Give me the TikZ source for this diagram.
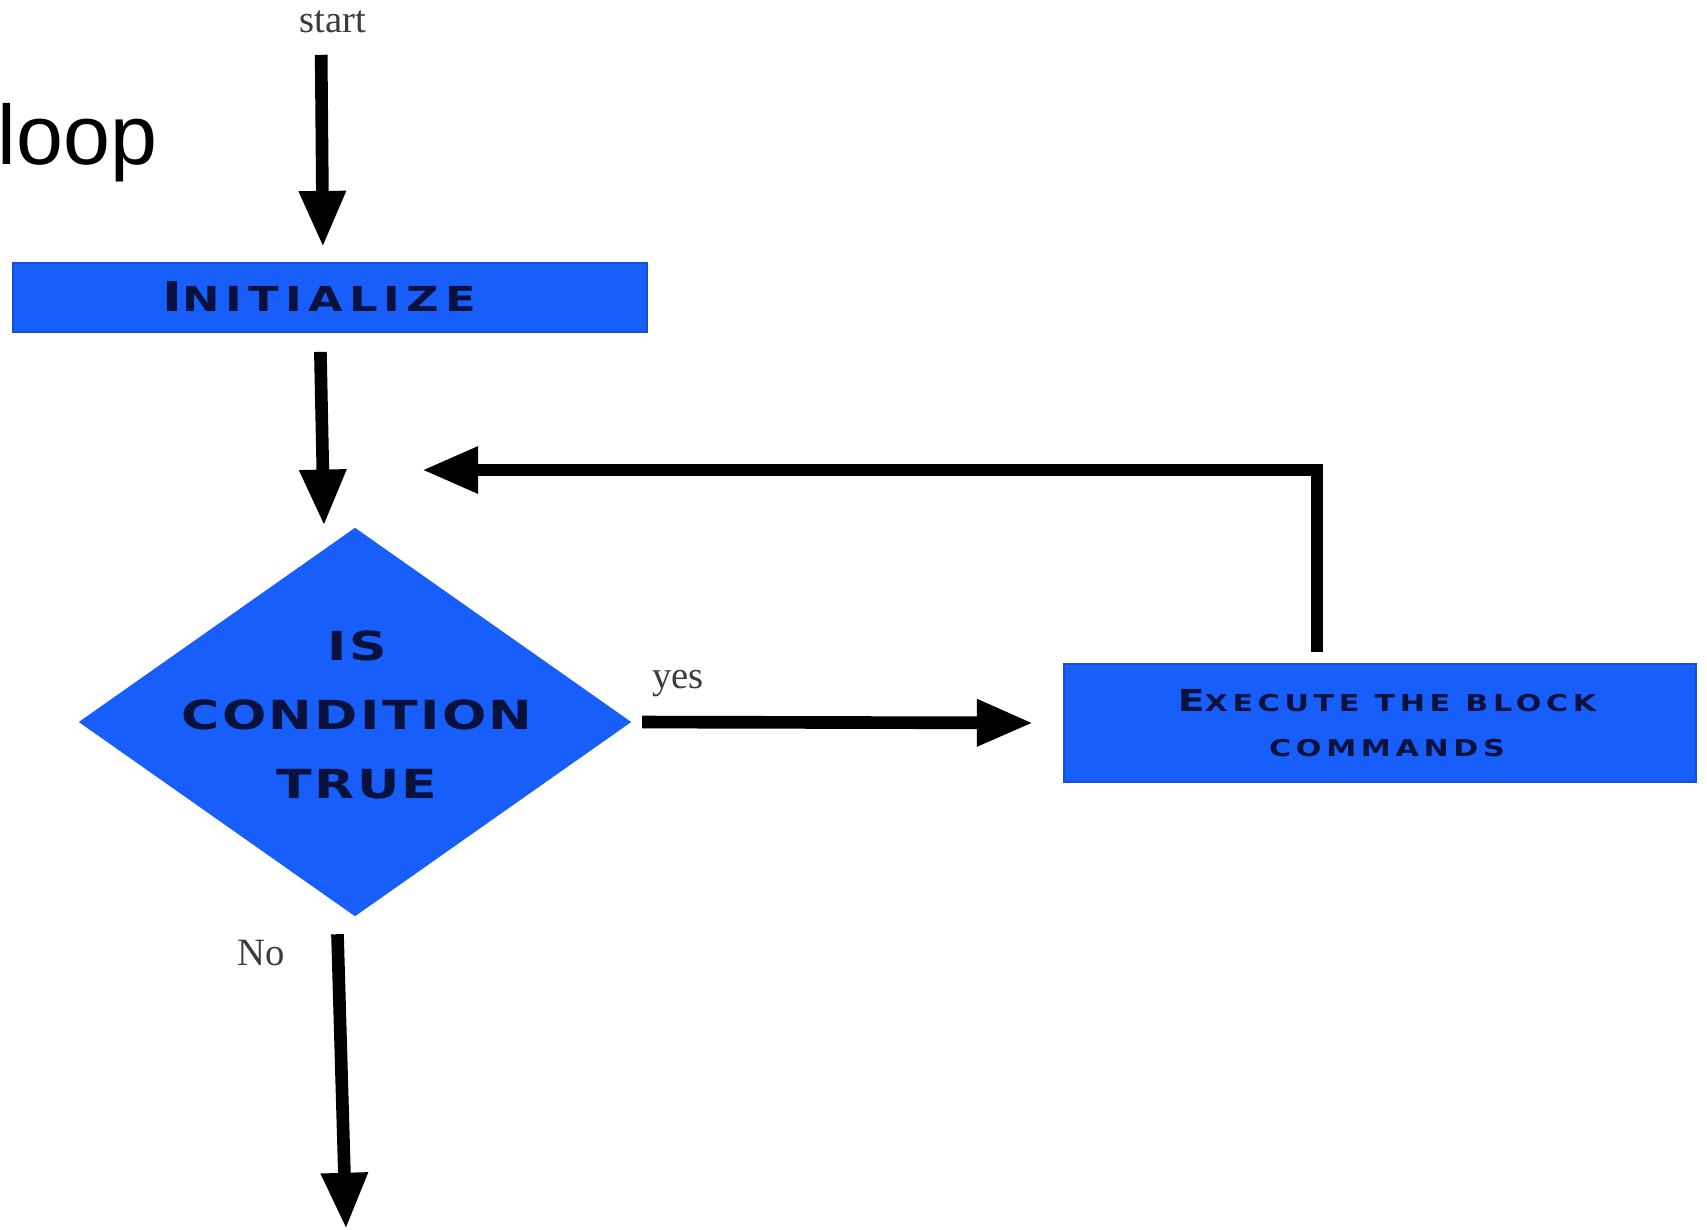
\documentclass[tikz,border=0pt]{standalone}
\usepackage{fontspec}
\setmainfont{Liberation Serif}
\setsansfont{Liberation Sans}
\newfontfamily\blockfont{DejaVu Sans}[FakeStretch=1.3]
\usetikzlibrary{arrows.meta,positioning,shapes.geometric}
\definecolor{flowblue}{RGB}{24,94,250}
\definecolor{navy}{RGB}{8,18,60}
\definecolor{labelgrey}{RGB}{60,60,60}

\begin{document}
\begin{tikzpicture}[
    block/.style={rectangle, fill=flowblue, draw=flowblue!85!black, line width=0.5pt, inner sep=0pt},
    decision/.style={diamond, fill=flowblue, inner sep=0pt, minimum width=5.53cm, minimum height=3.89cm},
    blocktext/.style={text=navy, inner sep=0pt, align=center},
    flow/.style={-{Triangle[length=16pt,width=12.5pt]}, line width=3.6pt},
    lbl/.style={font=\fontsize{11}{13}\selectfont, text=labelgrey, inner sep=0pt}]

\useasboundingbox (0,0) rectangle (17.07,-12.29);

\node[font=\sffamily\fontsize{24}{28}\selectfont, anchor=base west, inner sep=0pt] (title) at (-0.03,-1.64) {loop};

\node[lbl]                                (start) at (3.33,-0.22)  {start};
\node[block, minimum width=6.34cm, minimum height=0.69cm] (init)  at (3.30,-2.975) {};
\node[blocktext, font=\blockfont\bfseries\addfontfeature{LetterSpace=18}\fontsize{9.8}{12}\selectfont]
                                          (inittext) at (3.19,-2.96) {{\fontsize{11.7}{12}\selectfont I}NITIALIZE};
\node[decision]                           (cond)  at (3.55,-7.22)  {};
\node[blocktext, font=\blockfont\bfseries\addfontfeature{LetterSpace=6}\fontsize{11.4}{19.6}\selectfont]
                                          (condtext) at (3.57,-7.15) {IS\\CONDITION\\TRUE};
\node[block, minimum width=6.32cm, minimum height=1.18cm] (exec)  at (13.80,-7.23) {};
\node[blocktext, font=\blockfont\bfseries\addfontfeature{LetterSpace=20}\fontsize{6.6}{13}\selectfont]
                                          (exectext) at (13.87,-7.23) {{\fontsize{8.6}{13}\selectfont E}XECUTE THE BLOCK\\COMMANDS};
\node[lbl]                                (yes)   at (6.78,-6.84)  {yes};
\node[lbl]                                (no)    at (2.61,-9.53)  {No};

\coordinate (back) at (4.22,-4.70);
\coordinate (exit) at (3.46,-12.29);

% flow of control
\draw[flow, shorten <=0.21cm, shorten >=0.15cm] ([xshift=-1.2mm]start.south) -- ([xshift=-0.7mm]init.north);
\draw[flow, shorten <=0.19cm, shorten >=0.01cm] ([xshift=-1mm]init.south) -- ([xshift=-3.1mm]cond.north);
\draw[flow, shorten <=0.10cm, shorten >=0.30cm] (cond.east) -- (exec.west);
\draw[flow, shorten <=0.11cm] ([xshift=-6.3mm]exec.north) |- (back);
\draw[flow, shorten <=0.17cm] ([xshift=-1.8mm]cond.south) -- (exit);
\end{tikzpicture}
\end{document}
